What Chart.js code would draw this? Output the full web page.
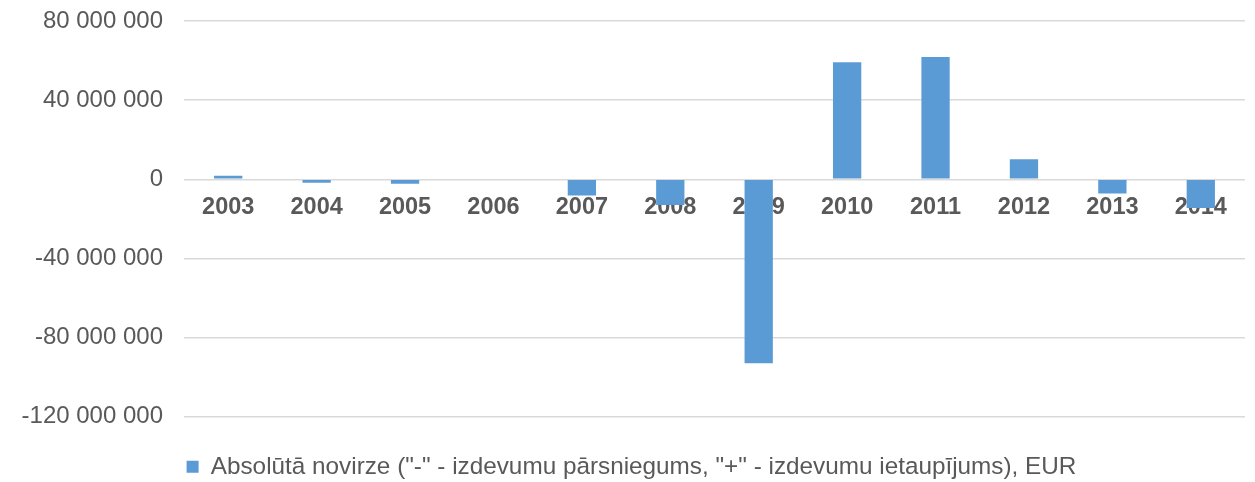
<!DOCTYPE html>
<html>
<head>
<meta charset="utf-8">
<script src="https://cdn.jsdelivr.net/npm/chart.js@4/dist/chart.umd.min.js"></script>
<style>
    html, body { margin: 0; padding: 0; background: #fff; }
    #wrap { width: 1255px; height: 482px; position: relative; }
</style>
</head>
<body>
<div id="wrap"><canvas id="deviationChart"></canvas></div>
<script>
    // values, EUR
    var years = ['2003', '2004', '2005', '2006', '2007', '2008', '2009', '2010', '2011', '2012', '2013', '2014'];
    var deviation = [1800000, -1800000, -2300000, -400000, -8200000, -13000000, -93000000, 59200000, 61800000, 10100000, -7200000, -14500000];
    var seriesLabel = 'Absolūtā novirze ("-" - izdevumu pārsniegums, "+" - izdevumu ietaupījums), EUR';
    var yTicks = [-120000000, -80000000, -40000000, 0, 40000000, 80000000];

    var textColor = '#595959';
    var barColor = '#5b9bd5';
    var fontFamily = 'Liberation Sans, Arial, sans-serif';

    function formatNumber(v) {
        return String(v).replace(/\B(?=(\d{3})+(?!\d))/g, ' ');
    }

    var ctx = document.getElementById('deviationChart').getContext('2d');
    var chart = new Chart(ctx, {
        type: 'bar',
        data: {
            labels: years,
            datasets: [{
                label: seriesLabel,
                data: deviation,
                backgroundColor: barColor,
                borderWidth: 0,
                categoryPercentage: 1,
                barPercentage: 0.32
            }]
        },
        options: {
            responsive: true,
            maintainAspectRatio: false,
            animation: false,
            layout: {
                padding: { top: 21, left: 18, right: 10, bottom: -7 }
            },
            plugins: {
                tooltip: { enabled: false },
                legend: {
                    position: 'bottom',
                    labels: {
                        color: textColor,
                        boxWidth: 12,
                        boxHeight: 12,
                        padding: 38,
                        font: { family: fontFamily, size: 24.3 }
                    }
                }
            },
            scales: {
                x: {
                    position: { y: 0 },
                    z: 1,
                    grid: { display: false, drawTicks: false },
                    border: { display: false },
                    ticks: {
                        color: textColor,
                        padding: 14,
                        font: { family: fontFamily, size: 23.5, weight: 'bold' }
                    }
                },
                y: {
                    min: yTicks[0],
                    max: yTicks[yTicks.length - 1],
                    afterFit: function(scale) { scale.width = 166; },
                    afterBuildTicks: function(scale) {
                        scale.ticks = yTicks.map(function(v) { return { value: v }; });
                    },
                    // invisible tick marks give the gap between labels and plot
                    grid: { color: '#d9d9d9', lineWidth: 1.5, drawTicks: true, tickLength: 21, tickColor: 'rgba(0,0,0,0)' },
                    border: { display: false },
                    ticks: {
                        color: textColor,
                        padding: 0,
                        font: { family: fontFamily, size: 24 },
                        callback: function(v) { return formatNumber(v); }
                    }
                }
            }
        }
    });
</script>
</body>
</html>
